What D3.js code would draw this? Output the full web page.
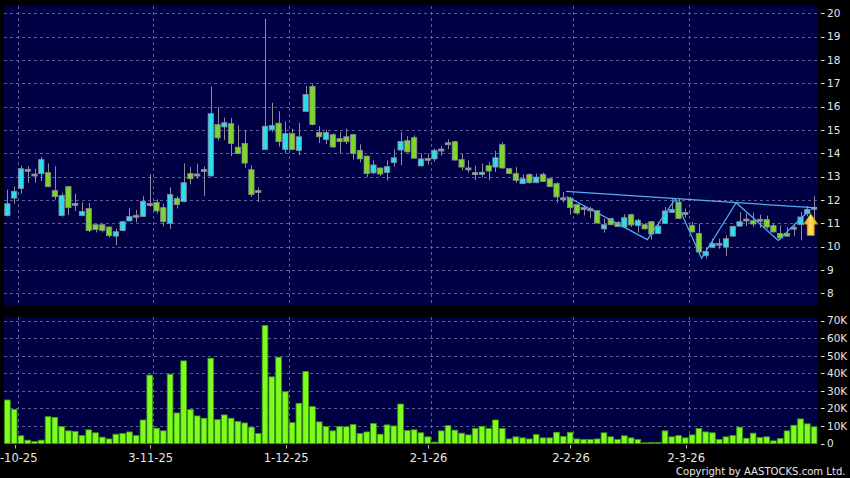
<!DOCTYPE html>
<html lang="en">
<head>
<meta charset="utf-8" />
<script src="https://d3js.org/d3.v7.min.js"></script>
<style>
  html, body { margin: 0; padding: 0; background: #000; }
  svg { display: block; }
</style>
</head>
<body>
<svg id="canvas" width="850" height="478"></svg>
<script>

var opens = [11.33,12.08,12.49,13.27,13.07,13.13,13.17,12.40,11.33,12.57,
  11.81,11.33,11.63,10.94,10.94,10.84,10.45,10.69,11.10,11.30,
  11.29,11.81,11.89,11.67,11.00,12.06,11.93,13.13,13.07,13.26,
  13.03,15.23,15.13,15.27,14.26,14.42,13.30,12.36,14.16,15.01,
  15.29,14.16,14.84,14.12,15.79,16.87,14.89,14.59,14.80,14.63,
  14.71,14.80,14.12,13.88,13.16,13.37,13.18,13.60,14.14,14.54,
  14.67,13.46,13.74,13.76,14.14,14.41,14.50,13.73,13.33,13.17,
  13.09,13.47,13.41,14.37,13.34,13.13,12.70,13.09,12.74,13.10,
  12.91,12.70,12.05,12.08,11.80,11.63,11.58,11.54,10.76,11.20,
  11.04,10.84,11.37,10.90,10.94,11.07,10.56,10.99,11.47,11.91,
  11.42,10.90,10.56,9.61,9.97,10.10,9.98,10.45,10.88,11.14,
  11.11,11.13,11.16,10.90,10.56,10.56,10.79,10.94,11.41,11.64];
var highs = [12.44,12.58,13.47,13.44,13.34,13.84,13.56,13.44,12.31,12.60,
  12.27,11.90,11.87,10.96,10.96,10.86,10.77,11.10,11.66,11.57,
  12.16,13.10,12.03,11.84,12.54,12.16,13.57,13.41,13.56,13.43,
  16.87,15.98,15.53,15.51,15.20,14.99,13.49,12.53,19.77,16.17,
  15.80,15.37,15.06,15.30,16.88,16.96,15.16,14.99,14.85,14.91,
  15.06,14.82,14.39,13.90,13.69,13.40,13.70,14.17,14.91,14.73,
  14.77,13.99,13.99,14.20,14.31,14.60,14.53,13.97,13.70,13.47,
  13.56,13.63,14.11,14.47,13.37,13.41,13.09,13.14,13.13,13.17,
  12.95,12.75,12.34,12.13,11.84,11.76,11.70,11.56,11.20,11.24,
  11.10,11.39,11.41,11.20,11.00,11.10,11.06,11.70,12.06,12.06,
  11.63,11.06,10.99,9.98,10.34,10.34,10.48,10.90,11.48,11.41,
  11.46,11.37,11.33,10.99,10.91,10.84,10.99,11.48,11.74,12.16];
var lows = [11.30,11.84,12.27,12.73,12.73,12.81,12.55,12.01,11.29,11.36,
  11.53,11.30,10.63,10.61,10.61,10.39,10.07,10.66,11.08,11.04,
  11.27,11.70,11.41,10.87,10.76,11.63,11.90,12.67,12.91,12.17,
  13.00,14.56,14.56,13.88,13.96,13.39,12.13,11.91,14.14,14.91,
  14.29,14.00,14.14,13.93,15.77,15.20,14.44,14.39,14.23,14.01,
  14.39,13.73,13.61,12.98,13.10,13.01,12.84,13.43,13.49,14.04,
  13.77,13.44,13.51,13.64,13.90,14.18,13.69,13.27,13.17,12.86,
  12.97,12.84,13.20,13.33,13.10,12.73,12.69,12.69,12.72,12.77,
  12.55,11.87,11.89,11.37,11.37,11.34,11.23,10.99,10.60,10.91,
  10.83,10.81,10.84,10.60,10.73,10.30,10.54,10.97,11.45,11.18,
  11.24,10.60,9.70,9.49,9.95,9.91,9.61,10.43,10.86,10.88,
  10.84,10.80,10.76,10.60,10.30,10.43,10.45,10.27,11.30,11.06];
var closes = [11.84,12.37,13.34,13.27,13.07,13.73,12.57,12.14,12.19,11.67,
  11.81,11.51,10.69,10.73,10.69,10.47,10.64,11.07,11.29,11.30,
  11.94,11.81,11.53,11.07,12.23,11.80,12.74,12.91,13.07,13.26,
  15.70,14.66,15.31,14.42,13.99,13.58,12.23,12.36,15.16,15.19,
  14.50,14.84,14.16,14.71,16.52,15.23,14.71,14.89,14.27,14.50,
  14.50,13.99,13.76,13.13,13.50,13.11,13.43,13.81,14.51,14.06,
  13.79,13.76,13.74,14.13,14.14,14.41,13.71,13.41,13.33,13.09,
  13.19,13.24,13.81,13.37,13.13,12.84,12.91,12.74,12.98,12.79,
  12.57,12.13,12.05,11.67,11.44,11.63,11.58,11.01,10.94,10.94,
  10.86,11.24,10.93,11.13,10.76,10.54,10.88,11.53,11.59,11.20,
  11.42,10.63,9.77,9.79,10.14,10.10,10.34,10.87,11.07,11.14,
  10.97,11.13,10.84,10.63,10.37,10.45,10.79,11.27,11.60,11.64];
// volume in thousands
var volumes = [24.8,19.5,4.4,1.9,1.1,1.9,15.3,14.9,9.6,7.2,
  6.8,4.5,7.8,6.1,3.6,2.6,5.3,5.7,6.6,4.5,
  13.4,39.0,8.7,7.2,39.5,17.4,47.1,19.3,15.7,14.4,
  48.6,13.6,16.3,14.4,12.5,11.7,9.3,5.7,67.3,38.0,
  49.2,29.5,11.9,22.9,41.1,21.0,12.3,9.6,7.2,9.6,
  9.5,10.8,5.7,6.6,11.4,5.3,10.6,10.0,22.5,7.4,
  7.8,6.1,3.8,0.8,7.2,10.2,7.6,5.9,4.9,8.5,
  9.8,8.5,13.4,8.5,2.6,3.8,3.2,2.6,5.1,3.2,
  3.2,6.4,4.0,6.4,2.6,2.3,2.3,2.6,6.1,3.8,
  2.3,4.4,3.2,2.3,0.4,0.6,0.6,7.2,3.8,4.5,
  3.2,4.9,8.5,6.6,6.1,2.3,3.8,4.5,9.3,3.0,
  5.9,3.4,3.8,1.5,2.8,7.2,10.4,14.0,11.2,9.5];

var dateLabels = ["2-10-25", "3-11-25", "1-12-25", "2-1-26", "2-2-26", "2-3-26"];
var dateIndex = [2, 22, 42, 63, 84, 101];
var priceTicks = [8, 9, 10, 11, 12, 13, 14, 15, 16, 17, 18, 19, 20];
var volTicks = [0, 10, 20, 30, 40, 50, 60, 70];

// drawn lines, [bar index, price]
var resistance = [[82.4, 12.37], [119.4, 11.66]];
var zigzag = [[82.5, 12.15], [94.4, 10.30], [98.5, 12.03], [102.4, 9.50], [107.5, 11.88], [113.7, 10.27], [118.3, 11.56]];
var arrowAt = {i: 118.5, tip: 11.41, base: 10.48};

var n = closes.length;
var bars = d3.range(n).map(function(i){
  return {i: i, o: opens[i], h: highs[i], l: lows[i], c: closes[i], v: volumes[i]};
});

var svg = d3.select("#canvas");
svg.append("rect").attr("width", 850).attr("height", 478).attr("fill", "#000");

var x = d3.scaleLinear().domain([-0.5, n - 0.5]).range([4, 817.5]);
var step = x(1) - x(0);
var y = d3.scaleLinear().domain([8, 20]).range([293.3, 13.3]);
var yv = d3.scaleLinear().domain([0, 70]).range([443.5, 320.7]);

var navy = "#000045", gridC = "#5d5d95";

// panels
svg.append("rect").attr("x", x(-0.5)).attr("y", 6).attr("width", x(n - 0.5) - x(-0.5)).attr("height", 300).attr("fill", navy);
svg.append("rect").attr("x", x(-0.5)).attr("y", 317).attr("width", x(n - 0.5) - x(-0.5)).attr("height", yv(0) - 317).attr("fill", navy);

var grid = svg.append("g").attr("stroke", gridC).attr("stroke-width", 1).attr("stroke-dasharray", "3,3");
grid.selectAll(".hp").data(priceTicks).enter().append("line")
  .attr("x1", x(-0.5)).attr("x2", x(n - 0.5))
  .attr("y1", function(d){ return Math.round(y(d)) + 0.5; })
  .attr("y2", function(d){ return Math.round(y(d)) + 0.5; });
grid.selectAll(".hv").data(volTicks.slice(1)).enter().append("line")
  .attr("x1", x(-0.5)).attr("x2", x(n - 0.5))
  .attr("y1", function(d){ return Math.round(yv(d)) + 0.5; })
  .attr("y2", function(d){ return Math.round(yv(d)) + 0.5; });
grid.selectAll(".vp").data(dateIndex).enter().append("line")
  .attr("x1", function(d){ return Math.round(x(d - 0.5)) + 0.5; })
  .attr("x2", function(d){ return Math.round(x(d - 0.5)) + 0.5; })
  .attr("y1", 6).attr("y2", 306);
grid.selectAll(".vv").data(dateIndex).enter().append("line")
  .attr("x1", function(d){ return Math.round(x(d - 0.5)) + 0.5; })
  .attr("x2", function(d){ return Math.round(x(d - 0.5)) + 0.5; })
  .attr("y1", 317).attr("y2", yv(0));

// candles
var bw = step * 0.78;
var candle = svg.append("g").selectAll("g").data(bars).enter().append("g");
candle.append("line")
  .attr("x1", function(d){ return Math.round(x(d.i)) + 0.5; })
  .attr("x2", function(d){ return Math.round(x(d.i)) + 0.5; })
  .attr("y1", function(d){ return y(d.h); })
  .attr("y2", function(d){ return y(d.l); })
  .attr("stroke", "#8d8d9a").attr("stroke-width", 1);
candle.append("rect")
  .attr("x", function(d){ return x(d.i) - bw / 2; })
  .attr("width", bw)
  .attr("y", function(d){
    var t = y(Math.max(d.o, d.c)), b = y(Math.min(d.o, d.c));
    return b - t < 2 ? (t + b) / 2 - 1 : t;
  })
  .attr("height", function(d){ return Math.max(2, Math.abs(y(d.o) - y(d.c))); })
  .attr("fill", function(d){ return d.c > d.o ? "#2fdcee" : d.c < d.o ? "#7bd826" : "#9a9aa8"; })
  .attr("stroke", "#8a8a96").attr("stroke-width", 0.8);

// volume
svg.append("g").selectAll("rect").data(bars).enter().append("rect")
  .attr("x", function(d){ return x(d.i) - step * 0.42; })
  .attr("width", step * 0.84)
  .attr("y", function(d){ return yv(d.v); })
  .attr("height", function(d){ return yv(0) - yv(d.v); })
  .attr("fill", "#7dfc1e").attr("stroke", "#3f9a12").attr("stroke-width", 0.8);

// trend lines
var line = d3.line().x(function(d){ return x(d[0]); }).y(function(d){ return y(d[1]); });
svg.append("path").attr("d", line(resistance)).attr("fill", "none").attr("stroke", "#55aef0").attr("stroke-width", 1.2);
svg.append("path").attr("d", line(zigzag)).attr("fill", "none").attr("stroke", "#55aef0").attr("stroke-width", 1.2);

// arrow
var grad = svg.append("defs").append("linearGradient").attr("id", "arrowGrad")
  .attr("x1", "0%").attr("x2", "100%").attr("y1", "0%").attr("y2", "0%");
grad.append("stop").attr("offset", "0%").attr("stop-color", "#e8950c");
grad.append("stop").attr("offset", "50%").attr("stop-color", "#ffe45c");
grad.append("stop").attr("offset", "100%").attr("stop-color", "#e8950c");
var ax = x(arrowAt.i), at = y(arrowAt.tip), ab = y(arrowAt.base), ah = (ab - at) * 0.48;
svg.append("path")
  .attr("d", "M" + ax + "," + at + "L" + (ax + 7.2) + "," + (at + ah) + "L" + (ax + 3.6) + "," + (at + ah) +
    "L" + (ax + 3.6) + "," + ab + "L" + (ax - 3.6) + "," + ab + "L" + (ax - 3.6) + "," + (at + ah) +
    "L" + (ax - 7.2) + "," + (at + ah) + "Z")
  .attr("fill", "url(#arrowGrad)").attr("stroke", "#c98408").attr("stroke-width", 0.6);

// right axes
var axisC = "#e6e6e6";
var font = "'DejaVu Sans', sans-serif";
var ra = svg.append("g");
ra.selectAll(".pt").data(priceTicks).enter().append("line")
  .attr("x1", 821).attr("x2", 824.5)
  .attr("y1", function(d){ return Math.round(y(d)) + 0.5; })
  .attr("y2", function(d){ return Math.round(y(d)) + 0.5; })
  .attr("stroke", axisC);
ra.selectAll(".pl").data(priceTicks).enter().append("text")
  .attr("x", 827).attr("y", function(d){ return y(d); }).attr("dy", "0.36em")
  .attr("fill", axisC).attr("font-family", font).attr("font-size", "10.5px")
  .text(function(d){ return d; });
ra.selectAll(".vt").data(volTicks).enter().append("line")
  .attr("x1", 821).attr("x2", 824.5)
  .attr("y1", function(d){ return Math.round(yv(d)) + 0.5; })
  .attr("y2", function(d){ return Math.round(yv(d)) + 0.5; })
  .attr("stroke", axisC);
ra.selectAll(".vl").data(volTicks).enter().append("text")
  .attr("x", 827).attr("y", function(d){ return yv(d); }).attr("dy", "0.36em")
  .attr("fill", axisC).attr("font-family", font).attr("font-size", "10.5px")
  .text(function(d){ return d ? d + "K" : "0"; });

// date axis
var da = svg.append("g");
da.selectAll("line").data(dateIndex).enter().append("line")
  .attr("x1", function(d){ return Math.round(x(d - 0.5)) - 2.5; })
  .attr("x2", function(d){ return Math.round(x(d - 0.5)) - 2.5; })
  .attr("y1", yv(0) + 1.5).attr("y2", yv(0) + 5)
  .attr("stroke", "#bbbbbb");
da.selectAll("text").data(dateIndex).enter().append("text")
  .attr("x", function(d){ return x(d - 0.5) - 2.5; }).attr("y", 462)
  .attr("text-anchor", "middle")
  .attr("fill", axisC).attr("font-family", font).attr("font-size", "11.5px")
  .text(function(d, i){ return dateLabels[i]; });

svg.append("text").attr("x", 845.5).attr("y", 475).attr("text-anchor", "end")
  .attr("fill", axisC).attr("font-family", "'DejaVu Sans Condensed', 'DejaVu Sans', sans-serif")
  .attr("font-stretch", "condensed").attr("font-size", "11.2px")
  .text("Copyright by AASTOCKS.com Ltd.");

</script>
</body>
</html>
